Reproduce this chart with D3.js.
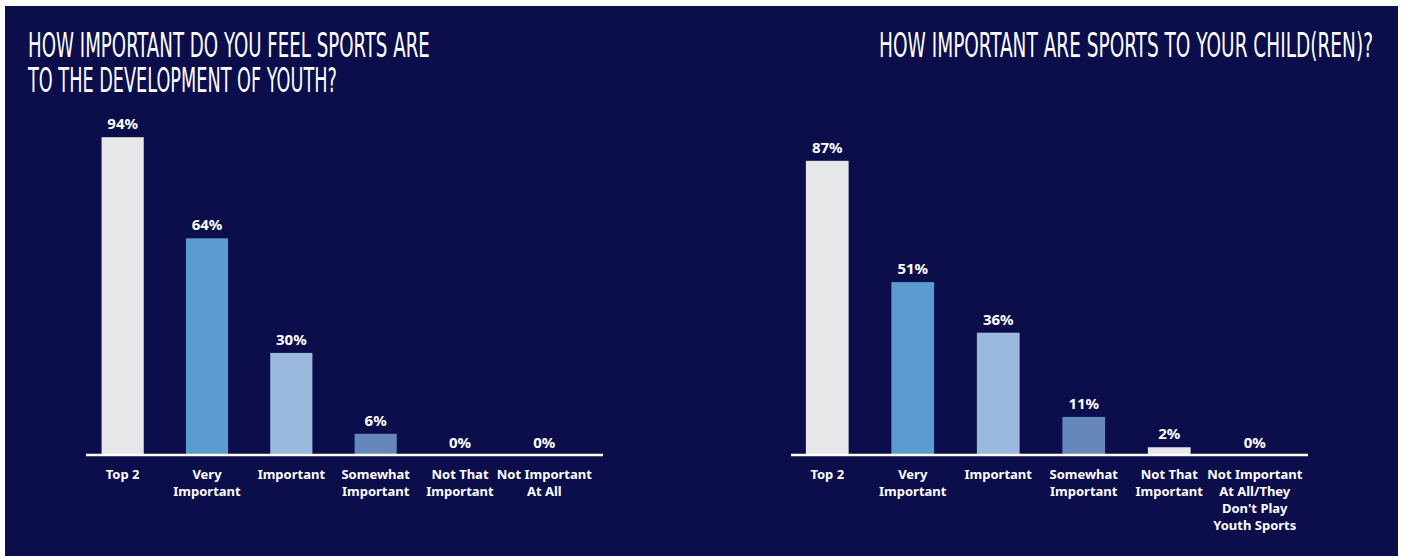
<!DOCTYPE html>
<html>
<head>
<meta charset="utf-8">
<script src="https://cdn.jsdelivr.net/npm/d3@7"></script>
<style>
  html, body { margin: 0; padding: 0; background: #ffffff; }
  svg { display: block; }
</style>
</head>
<body>
<svg id="chart" width="1403" height="557"></svg>
<script>
// Survey results: importance of sports
const leftCategories = [
  ["Top 2"],
  ["Very", "Important"],
  ["Important"],
  ["Somewhat", "Important"],
  ["Not That", "Important"],
  ["Not Important", "At All"]
];
const leftValues = [94, 64, 30, 6, 0, 0];

const rightCategories = [
  ["Top 2"],
  ["Very", "Important"],
  ["Important"],
  ["Somewhat", "Important"],
  ["Not That", "Important"],
  ["Not Important", "At All/They", "Don't Play", "Youth Sports"]
];
const rightValues = [87, 51, 36, 11, 2, 0];

const leftTitle = ["HOW IMPORTANT DO YOU FEEL SPORTS ARE", "TO THE DEVELOPMENT OF YOUTH?"];
const rightTitle = ["HOW IMPORTANT ARE SPORTS TO YOUR CHILD(REN)?"];

const barColors = ["#e6e7e8", "#5c9bd2", "#9ab9dc", "#6587b9", "#e6e7e8", "#e6e7e8"];

const svg = d3.select("#chart");

svg.append("rect")
  .attr("x", 5).attr("y", 6)
  .attr("width", 1393).attr("height", 550)
  .attr("fill", "#0c0d4b");

const titleFont = "'Liberation Sans Narrow', 'DejaVu Sans Condensed', 'Arial Narrow', sans-serif";
const bodyFont = "'Noto Sans', 'Open Sans', 'DejaVu Sans', sans-serif";

const baseline = 454;
const y = d3.scaleLinear().domain([0, 100]).range([baseline, baseline - 337]);

function drawPanel(cfg) {
  const g = svg.append("g");
  const names = cfg.categories.map(d => d.join(" "));
  const x = d3.scaleBand()
    .domain(names)
    .range(cfg.range)
    .paddingInner(0.5)
    .paddingOuter(0.25);

  // title lines: condensed horizontally to their set widths
  cfg.title.forEach((t, i) => {
    const txt = g.append("text")
      .attr("x", 0)
      .attr("y", 0)
      .attr("font-family", titleFont)
      .attr("font-size", 33)
      .attr("font-weight", 400)
      .attr("fill", "#ffffff")
      .text(t);
    const natural = txt.node().getComputedTextLength();
    const sx = cfg.titleW[i] / natural;
    txt.attr("transform", `translate(${cfg.titleX[i]},${cfg.titleY[i]}) scale(${sx},1)`);
  });

  // bars
  g.selectAll("rect.bar")
    .data(cfg.values)
    .join("rect")
    .attr("class", "bar")
    .attr("x", (d, i) => x(names[i]))
    .attr("y", d => y(d))
    .attr("width", x.bandwidth())
    .attr("height", d => y(0) - y(d))
    .attr("fill", (d, i) => barColors[i]);

  // value labels
  g.selectAll("text.val")
    .data(cfg.values)
    .join("text")
    .attr("class", "val")
    .attr("x", (d, i) => x(names[i]) + x.bandwidth() / 2)
    .attr("y", d => y(d) - (d === 0 ? 6 : 8))
    .attr("text-anchor", "middle")
    .attr("font-family", bodyFont)
    .attr("font-size", 15)
    .attr("font-weight", 700)
    .attr("fill", "#ffffff")
    .text(d => d + "%");

  // axis baseline
  g.append("line")
    .attr("x1", cfg.axis[0]).attr("x2", cfg.axis[1])
    .attr("y1", y(0) + 1).attr("y2", y(0) + 1)
    .attr("stroke", "#ffffff")
    .attr("stroke-width", 2.5);

  // category labels
  cfg.categories.forEach((lines, i) => {
    const t = g.append("text")
      .attr("text-anchor", "middle")
      .attr("font-family", bodyFont)
      .attr("font-size", 13)
      .attr("font-weight", 700)
      .attr("fill", "#ffffff");
    lines.forEach((ln, j) => {
      t.append("tspan")
        .attr("x", x(names[i]) + x.bandwidth() / 2)
        .attr("y", 479 + j * 17)
        .text(ln);
    });
  });
}

drawPanel({
  categories: leftCategories,
  values: leftValues,
  range: [80.5, 586.5],
  axis: [86, 603],
  title: leftTitle,
  titleX: [28, 28],
  titleY: [57, 92],
  titleW: [402, 309]
});

drawPanel({
  categories: rightCategories,
  values: rightValues,
  range: [784.5, 1297.5],
  axis: [791, 1308],
  title: rightTitle,
  titleX: [879],
  titleY: [57],
  titleW: [494]
});
</script>
</body>
</html>
